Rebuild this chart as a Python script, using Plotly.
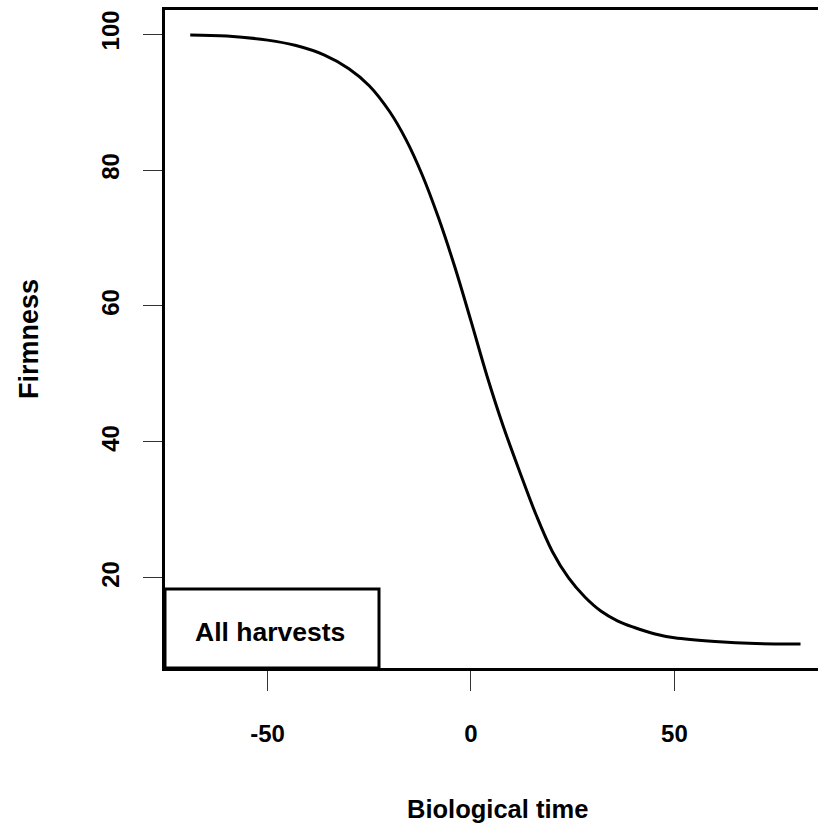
import plotly.graph_objects as go

# Data
bio_time = [-69, -60, -50, -43, -36, -30, -25, -20, -16, -12, -8, -4, 0, 4, 8,
            12, 16, 20, 24, 28, 32, 36, 40, 45, 50, 60, 70, 81]
firmness = [99.85, 99.7, 99.1, 98.3, 96.9, 94.9, 92.4, 88.6, 84.5, 79.3, 73.0, 65.8, 57.8, 49.6, 42.2,
            35.6, 29.3, 23.9, 20.0, 17.2, 15.1, 13.7, 12.75, 11.8, 11.2, 10.65, 10.35, 10.3]
x_ticks = [-50, 0, 50]
y_ticks = [20, 40, 60, 80, 100]
legend_label = "All harvests"
x_title = "Biological time"
y_title = "Firmness"

FONT = "Liberation Sans, Arial, sans-serif"

fig = go.Figure()
fig.add_trace(go.Scatter(x=bio_time, y=firmness, mode="lines",
                         line=dict(color="black", width=3, shape="spline", smoothing=1.0),
                         showlegend=False, hoverinfo="skip"))

W, H = 818, 825
L, T, B, R = 165, 10, 157, 0
pw, ph = W - L - R, H - T - B

fig.update_layout(
    width=W, height=H,
    margin=dict(l=L, r=R, t=T, b=B, pad=0),
    plot_bgcolor="white", paper_bgcolor="white",
    font=dict(family=FONT, size=24, color="black"),
    showlegend=False,
)
fig.update_xaxes(range=[-75.2, 85.3], tickvals=x_ticks, ticktext=[str(v) for v in x_ticks],
                 showgrid=False, zeroline=False, showline=True, linecolor="black", linewidth=3,
                 mirror=True, ticks="outside", ticklen=20, tickwidth=1, tickcolor="#333333",
                 tickfont=dict(family=FONT, size=24, color="black", weight="bold"),
                 ticklabelstandoff=22)
fig.update_yaxes(range=[6.76, 103.53], tickvals=y_ticks, ticktext=[str(v) for v in y_ticks],
                 showgrid=False, zeroline=False, showline=True, linecolor="black", linewidth=3,
                 mirror=False, ticks="outside", ticklen=19, tickwidth=1, tickcolor="#333333",
                 tickangle=-90,
                 tickfont=dict(family=FONT, size=24, color="black", weight="bold"),
                 ticklabelstandoff=14)

# legend box (bottom-left)
fig.add_shape(type="rect", xref="paper", yref="paper",
              x0=0, x1=(379 - L) / pw, y0=0, y1=(668 - 589) / ph,
              line=dict(color="black", width=3), fillcolor="white", layer="above")
fig.add_annotation(text=legend_label, xref="paper", yref="paper",
                   x=(270 - L) / pw, y=(668 - 632) / ph, showarrow=False,
                   xanchor="center", yanchor="middle",
                   font=dict(family=FONT, size=26.5, color="black", weight="bold"))

# axis titles
fig.add_annotation(text=x_title, xref="paper", yref="paper",
                   x=(497 - L) / pw, y=(668 - 809) / ph, showarrow=False,
                   xanchor="center", yanchor="middle",
                   font=dict(family=FONT, size=25.5, color="black", weight="bold"))
fig.add_annotation(text=y_title, xref="paper", yref="paper",
                   x=(29 - L) / pw, y=(668 - 339) / ph, showarrow=False, textangle=-90,
                   xanchor="center", yanchor="middle",
                   font=dict(family=FONT, size=27, color="black", weight="bold"))

fig.write_html("out.html")
